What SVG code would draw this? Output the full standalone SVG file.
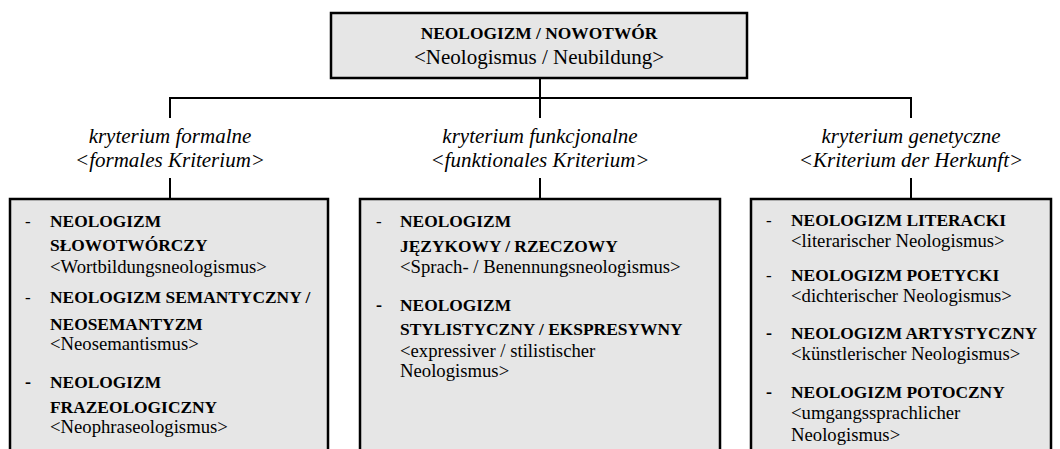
<svg xmlns="http://www.w3.org/2000/svg" width="1060" height="449" viewBox="0 0 1060 449">
<style>
.box{fill:#e6e6e6;stroke:#000;stroke-width:2.5}
.ln{stroke:#000;stroke-width:2;fill:none}
text{font-family:"Liberation Serif","Times New Roman",serif;fill:#000}
.b{font-weight:bold;font-size:17.4px}
.r{font-size:18.7px}
.rt{font-size:21px}
.i{font-style:italic;font-size:21px}
.c{text-anchor:middle}
.d{font-size:17px}
.db{font-size:18px;font-weight:bold}
</style>
<rect width="1060" height="449" fill="#fff"/>
<g id="connectors">
<path class="ln" d="M540 78 V118 M170 98 H911 M170 97 V118 M911 97 V118 M170 178 V199 M540 178 V199 M911 178 V199"/>
</g>
<g id="root">
<rect class="box" x="331" y="13" width="416" height="65"/>
<text class="b c" x="539" y="39">NEOLOGIZM / NOWOTWÓR</text>
<text class="rt c" x="539" y="64">&lt;Neologismus / Neubildung&gt;</text>
</g>
<g id="label-formal">
<text class="i c" x="170" y="143">kryterium formalne</text>
<text class="i c" x="170" y="167">&lt;formales Kriterium&gt;</text>
</g>
<g id="label-functional">
<text class="i c" x="540" y="143">kryterium funkcjonalne</text>
<text class="i c" x="540" y="167">&lt;funktionales Kriterium&gt;</text>
</g>
<g id="label-genetic">
<text class="i c" x="911" y="143">kryterium genetyczne</text>
<text class="i c" x="911" y="167">&lt;Kriterium der Herkunft&gt;</text>
</g>
<g id="box-formal">
<rect class="box" x="10" y="199" width="318" height="270"/>
<text class="d" x="25" y="227">-</text>
<text class="b" x="50" y="227">NEOLOGIZM</text>
<text class="b" x="50" y="251">SŁOWOTWÓRCZY</text>
<text class="r" x="50" y="273">&lt;Wortbildungsneologismus&gt;</text>
<text class="d" x="25" y="303">-</text>
<text class="b" x="50" y="303">NEOLOGIZM SEMANTYCZNY /</text>
<text class="b" x="50" y="330">NEOSEMANTYZM</text>
<text class="r" x="50" y="350">&lt;Neosemantismus&gt;</text>
<text class="db" x="25" y="388">-</text>
<text class="b" x="50" y="388">NEOLOGIZM</text>
<text class="b" x="50" y="413">FRAZEOLOGICZNY</text>
<text class="r" x="50" y="433">&lt;Neophraseologismus&gt;</text>
</g>
<g id="box-functional">
<rect class="box" x="360" y="199" width="360" height="270"/>
<text class="d" x="376" y="227">-</text>
<text class="b" x="400" y="227">NEOLOGIZM</text>
<text class="b" x="400" y="252">JĘZYKOWY / RZECZOWY</text>
<text class="r" x="400" y="273">&lt;Sprach- / Benennungsneologismus&gt;</text>
<text class="db" x="376" y="311">-</text>
<text class="b" x="400" y="311">NEOLOGIZM</text>
<text class="b" x="400" y="335">STYLISTYCZNY / EKSPRESYWNY</text>
<text class="r" x="400" y="357">&lt;expressiver / stilistischer</text>
<text class="r" x="400" y="377">Neologismus&gt;</text>
</g>
<g id="box-genetic">
<rect class="box" x="751" y="199" width="300" height="270"/>
<text class="d" x="766" y="226">-</text>
<text class="b" x="791" y="226">NEOLOGIZM LITERACKI</text>
<text class="r" x="791" y="247">&lt;literarischer Neologismus&gt;</text>
<text class="d" x="766" y="281">-</text>
<text class="b" x="791" y="281">NEOLOGIZM POETYCKI</text>
<text class="r" x="791" y="302">&lt;dichterischer Neologismus&gt;</text>
<text class="db" x="766" y="339">-</text>
<text class="b" x="791" y="339">NEOLOGIZM ARTYSTYCZNY</text>
<text class="r" x="791" y="360">&lt;künstlerischer Neologismus&gt;</text>
<text class="db" x="766" y="398">-</text>
<text class="b" x="791" y="398">NEOLOGIZM POTOCZNY</text>
<text class="r" x="791" y="419">&lt;umgangssprachlicher</text>
<text class="r" x="791" y="441">Neologismus&gt;</text>
</g>
</svg>
